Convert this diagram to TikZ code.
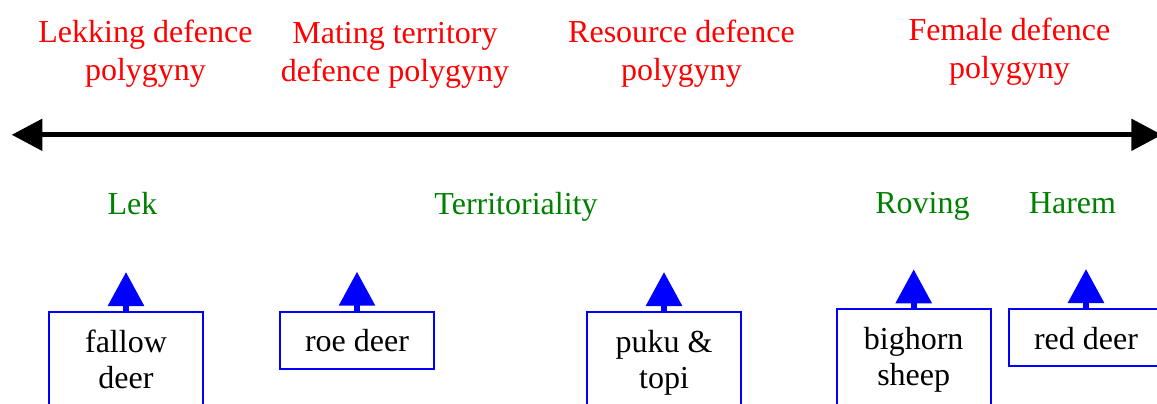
\documentclass[tikz,border=0pt]{standalone}
\usepackage{fontspec}
\setmainfont{Liberation Serif}
\usepackage{xcolor}
\usetikzlibrary{arrows.meta}

\definecolor{labelred}{RGB}{255,0,0}
\definecolor{labelgreen}{RGB}{0,128,0}
\definecolor{boxblue}{RGB}{0,0,255}

\tikzset{
  system/.style={text=labelred, align=center, anchor=base, inner sep=0pt, font=\fontsize{16}{19}\selectfont},
  strategy/.style={text=labelgreen, anchor=base, inner sep=0pt, font=\fontsize{16}{17}\selectfont},
  species/.style={draw=boxblue, line width=1pt, minimum width=77pt, inner xsep=0pt, inner ysep=0pt,
    text height=20pt, text depth=8.5pt, align=center, anchor=north, font=\fontsize{16}{18.3}\selectfont},
  tallspecies/.style={species, text height=38.3pt, text depth=45pt},
  pointer/.style={draw=boxblue, line width=3pt, -{Triangle[length=17pt,width=17.5pt]}},
  axis/.style={line width=2.5pt, {Triangle[length=15.3pt,width=15.5pt]}-{Triangle[length=15.3pt,width=15.5pt]}}
}

\begin{document}
\begin{tikzpicture}[x=0.5pt, y=-0.5pt]
  \useasboundingbox (0,0) rectangle (1157,403);
  \clip (0,0) rectangle (1157,403);

  % mating systems (anchored on the last line)
  \node[system] (lekking) at (145.5,80.7) {Lekking defence\\polygyny};
  \node[system] (mating) at (395,81) {Mating territory\\defence polygyny};
  \node[system] (resource) at (681.5,80.5) {Resource defence\\polygyny};
  \node[system] (female) at (1009.5,78) {Female defence\\polygyny};

  % the continuum
  \coordinate (west) at (11.7,134.8);
  \coordinate (east) at (1162,134.8);
  \draw[axis] (west) -- (east);

  % behaviour
  \node[strategy] (lek) at (132.5,214) {Lek};
  \node[strategy] (territory) at (516,214) {Territoriality};
  \node[strategy] (roving) at (922.5,213) {Roving};
  \node[strategy] (harem) at (1072.5,213) {Harem};

  % species
  \node[tallspecies] (fallow) at (126,311) {fallow\\deer};
  \node[species] (roe) at (357,310.7) {roe deer};
  \node[tallspecies] (puku) at (664,311) {puku \&\\topi};
  \node[tallspecies] (bighorn) at (913.7,308.3) {bighorn\\sheep};
  \node[species] (red) at (1086,308) {red deer};

  \coordinate (fallowtip) at (126,272);
  \coordinate (roetip) at (357,271.7);
  \coordinate (pukutip) at (664,272);
  \coordinate (bighorntip) at (913.7,269.3);
  \coordinate (redtip) at (1086,269);
  \draw[pointer] (fallow.north) -- (fallowtip);
  \draw[pointer] (roe.north) -- (roetip);
  \draw[pointer] (puku.north) -- (pukutip);
  \draw[pointer] (bighorn.north) -- (bighorntip);
  \draw[pointer] (red.north) -- (redtip);
\end{tikzpicture}
\end{document}
